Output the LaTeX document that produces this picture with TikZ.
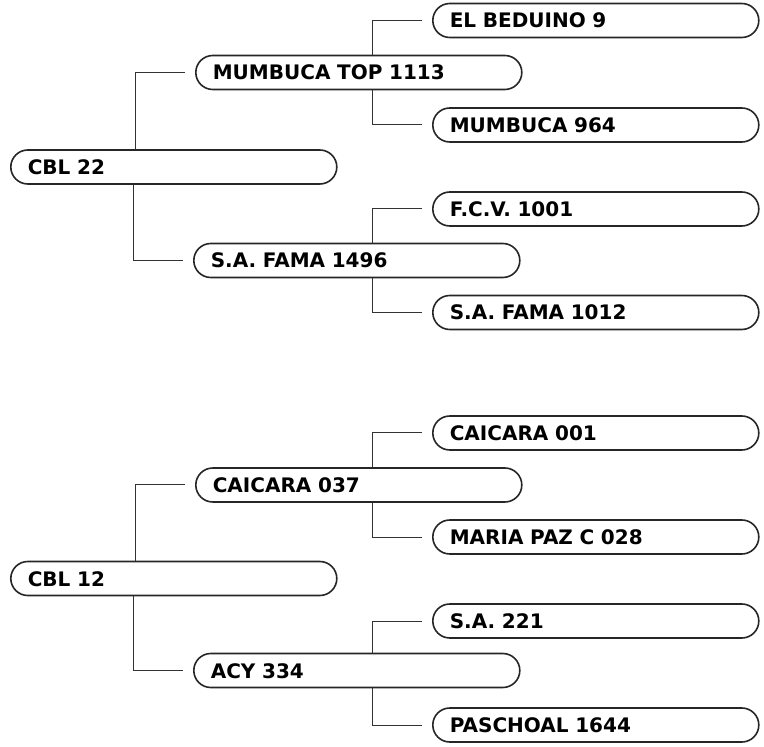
\documentclass[tikz,border=0pt]{standalone}
\usepackage{fontspec}
\setmainfont{DejaVu Sans}
\usepackage{tikz}
\usetikzlibrary{positioning}

\begin{document}
\begin{tikzpicture}[
   x=0.5pt,y=-0.5pt,
   horse/.style={draw=black!85,line width=0.8pt,rounded corners=8.5pt,anchor=west,
               text width=146pt,align=left,inner xsep=8.5pt,inner ysep=0pt,
               minimum height=17pt,text height=7.5pt,text depth=0pt,
               font=\bfseries\fontsize{10}{12}\selectfont},
   link/.style={draw=black!80,line width=0.5pt}]
  \useasboundingbox (0,0) rectangle (764,747);
  % first pedigree
  \node[horse] (cbl22) at (10,167) {CBL 22};
  \node[horse] (mumtop) at (195,72.5) {MUMBUCA TOP 1113};
  \node[horse] (beduino) at (432,20.5) {EL BEDUINO 9};
  \node[horse] (mum964) at (432,125) {MUMBUCA 964};
  \node[horse] (fama1496) at (193,260.5) {S.A. FAMA 1496};
  \node[horse] (fcv) at (432,209) {F.C.V. 1001};
  \node[horse] (fama1012) at (432,312.5) {S.A. FAMA 1012};
  % second pedigree
  \node[horse] (cbl12) at (10,578.5) {CBL 12};
  \node[horse] (caic037) at (195,485) {CAICARA 037};
  \node[horse] (caic001) at (432,433) {CAICARA 001};
  \node[horse] (maria) at (432,537) {MARIA PAZ C 028};
  \node[horse] (acy) at (193,670.5) {ACY 334};
  \node[horse] (sa221) at (432,621) {S.A. 221};
  \node[horse] (pasch) at (432,725) {PASCHOAL 1644};
  \foreach \p/\c in {cbl22.north/mumtop,cbl22.south/fama1496,
                     mumtop.north/beduino,mumtop.south/mum964,
                     fama1496.north/fcv,fama1496.south/fama1012,
                     cbl12.north/caic037,cbl12.south/acy,
                     caic037.north/caic001,caic037.south/maria,
                     acy.north/sa221,acy.south/pasch}
    \draw[link] ([xshift=-5pt]\c.west) -| ([xshift=-30pt]\c.west |- \p);
\end{tikzpicture}
\end{document}
